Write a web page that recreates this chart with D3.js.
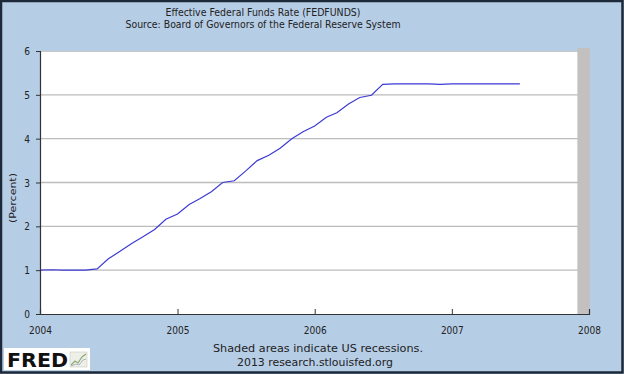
<!DOCTYPE html>
<html><head><meta charset="utf-8">
<script src="https://cdn.jsdelivr.net/npm/d3@7"></script>
<style>html,body{margin:0;padding:0;background:#b6cde6;}svg{display:block;}</style>
</head><body>
<script>
// ---- data (monthly effective federal funds rate, %) ----
const months = ["2004-01","2004-02","2004-03","2004-04","2004-05","2004-06","2004-07","2004-08","2004-09","2004-10","2004-11","2004-12",
"2005-01","2005-02","2005-03","2005-04","2005-05","2005-06","2005-07","2005-08","2005-09","2005-10","2005-11","2005-12",
"2006-01","2006-02","2006-03","2006-04","2006-05","2006-06","2006-07","2006-08","2006-09","2006-10","2006-11","2006-12",
"2007-01","2007-02","2007-03","2007-04","2007-05","2007-06","2007-07"];
const rates = [1.00,1.01,1.00,1.00,1.00,1.03,1.26,1.43,1.61,1.76,1.93,2.16,
2.28,2.50,2.63,2.79,3.00,3.04,3.26,3.50,3.62,3.78,4.00,4.16,
4.29,4.49,4.59,4.79,4.94,4.99,5.24,5.25,5.25,5.25,5.25,5.24,
5.25,5.25,5.25,5.25,5.25,5.25,5.25];
const yTicks = [0,1,2,3,4,5,6];
const xTickLabels = ["2004","2005","2006","2007","2008"];
const recessions = [["2007-12","2008-01"]];
const titleLines = ["Effective Federal Funds Rate (FEDFUNDS)","Source: Board of Governors of the Federal Reserve System"];
const noteLines = ["Shaded areas indicate US recessions.","2013 research.stlouisfed.org"];
const yLabel = "(Percent)";

const W=624,H=374;
const parse=d3.timeParse("%Y-%m");
const data = months.map((m,i)=>({date:parse(m),value:rates[i]}));
const x = d3.scaleTime().domain([new Date(2004,0,1),new Date(2008,0,1)]).range([40,589]);
const y = d3.scaleLinear().domain([0,6]).range([314,51]);
const font="DejaVu Sans, Verdana, sans-serif";
const SX=0.82;

const svg=d3.select("body").append("svg").attr("width",W).attr("height",H);
svg.append("rect").attr("x",0).attr("y",0).attr("width",W).attr("height",H).attr("fill","#b6cde6");
svg.append("rect").attr("x",1).attr("y",1).attr("width",W-2.5).attr("height",H-2.5).attr("fill","none").attr("stroke","#1d2838").attr("stroke-width",2.5);

// plot area
svg.append("rect").attr("x",x.range()[0]).attr("y",y(6)).attr("width",x.range()[1]-x.range()[0]).attr("height",y(0)-y(6)).attr("fill","#ffffff");
svg.append("line").attr("x1",x.range()[0]).attr("x2",x.range()[1]).attr("y1",y(6)+0.5).attr("y2",y(6)+0.5).attr("stroke","#c9c9c9");

// grid
svg.append("g").selectAll("line").data(yTicks.filter(d=>d>0&&d<6)).join("line")
  .attr("x1",x.range()[0]).attr("x2",x.range()[1]).attr("y1",d=>y(d)).attr("y2",d=>y(d))
  .attr("stroke","#bcbcbc").attr("stroke-width",1.3);

// recessions
svg.append("g").selectAll("rect").data(recessions).join("rect")
  .attr("x",d=>x(parse(d[0]))).attr("width",d=>x(parse(d[1]))-x(parse(d[0]))+1)
  .attr("y",y(6)-3).attr("height",y(0)-y(6)+3).attr("fill","#c3c1bf");

// line
svg.append("path").datum(data).attr("fill","none").attr("stroke","#3b3bd4").attr("stroke-width",1.2)
  .attr("d",d3.line().x(d=>x(d.date)).y(d=>y(d.value)));

// axes
const yAxis = svg.append("g").attr("transform",`translate(${x.range()[0]},0)`)
  .call(d3.axisLeft(y).tickValues(yTicks).tickSize(4).tickPadding(3).tickFormat(d3.format("d")));
const xAxis = svg.append("g").attr("transform",`translate(0,${y(0)})`)
  .call(d3.axisBottom(x).tickValues(xTickLabels.map(s=>new Date(+s,0,1))).tickSize(-5).tickPadding(10).tickFormat(d3.timeFormat("%Y")));
[yAxis,xAxis].forEach(g=>{
  g.select(".domain").attr("stroke","#333").attr("stroke-width",1.2);
  g.selectAll(".tick line").attr("stroke","#333");
  g.selectAll("text").attr("font-family",font).attr("font-size",11).attr("fill","#222");
});
yAxis.selectAll(".tick text").each(function(){
  const t=d3.select(this); const tx=+t.attr("x")||0;
  t.attr("x",null).attr("transform",`translate(${tx-3},0) scale(${SX},1)`);
});
xAxis.selectAll(".tick text").attr("transform",`scale(${SX},1)`).attr("y",12);

// y label
svg.append("text").attr("transform","translate(16,198) rotate(-90) scale(1,0.82)")
  .attr("text-anchor","middle").attr("font-family",font).attr("font-size",11).attr("fill","#222").text(yLabel);

// titles
const titleLayout=[{cx:263,y:16,len:195},{cx:263,y:28,len:275}];
svg.append("g").selectAll("text").data(titleLines).join("text")
  .attr("x",(d,i)=>titleLayout[i].cx-titleLayout[i].len/2).attr("y",(d,i)=>titleLayout[i].y)
  .attr("textLength",(d,i)=>titleLayout[i].len).attr("lengthAdjust","spacingAndGlyphs")
  .attr("font-family",font).attr("font-size",11).attr("fill","#222").text(d=>d);

const noteLayout=[{x:213,y:352,len:210},{x:237,y:366,len:156}];
svg.append("g").selectAll("text").data(noteLines).join("text")
  .attr("x",(d,i)=>noteLayout[i].x).attr("y",(d,i)=>noteLayout[i].y)
  .attr("textLength",(d,i)=>noteLayout[i].len).attr("lengthAdjust","spacingAndGlyphs")
  .attr("font-family",font).attr("font-size",11).attr("fill","#222").text(d=>d);

// FRED logo
const logo=svg.append("g");
logo.append("rect").attr("x",4).attr("y",348).attr("width",86).attr("height",22).attr("fill","#ffffff");
logo.append("text").attr("x",7).attr("y",367).attr("textLength",61).attr("lengthAdjust","spacingAndGlyphs")
  .attr("font-family","DejaVu Sans, Arial, sans-serif").attr("font-weight","bold").attr("font-size",20).attr("fill","#111").text("FRED");
logo.append("rect").attr("x",70).attr("y",352).attr("width",17).attr("height",15).attr("fill","#eef0e8").attr("stroke","#c8ccc0").attr("stroke-width",0.6);
logo.append("path").attr("d","M71,365 L75,361 L78,363 L82,357 L86,354").attr("fill","none").attr("stroke","#8fa87a").attr("stroke-width",1.2);
logo.append("path").attr("d","M71,366 L76,364 L79,365 L83,360 L86,359").attr("fill","none").attr("stroke","#a9b4c4").attr("stroke-width",1);
</script>
</body></html>
